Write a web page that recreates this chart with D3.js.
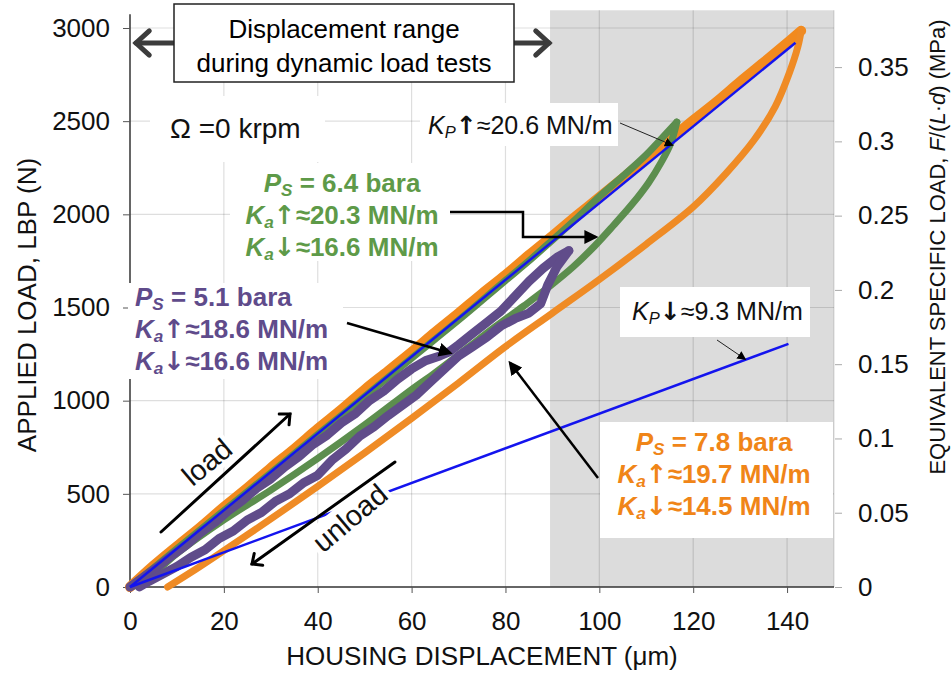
<!DOCTYPE html>
<html>
<head>
<meta charset="utf-8">
<script src="https://cdn.jsdelivr.net/npm/d3@7"></script>
<style>
  body { margin: 0; background: #fff; }
  svg { font-family: "Liberation Sans", Arial, sans-serif; }
</style>
</head>
<body>
<div id="chart"></div>
<script>
// axis ticks
const xTicks = [0, 20, 40, 60, 80, 100, 120, 140];
const yTicks = [0, 500, 1000, 1500, 2000, 2500, 3000];
const mpaTicks = [0, 0.05, 0.1, 0.15, 0.2, 0.25, 0.3, 0.35];
const mpaPerN = 1.2544e-4;          // F/(L*d) conversion
const dynamicRange = [89.5, 150];   // um, shaded band

// Ps = 7.8 bara
const orangeLoad = [[0,0],[5,115],[10,220],[15,322],[20,430],[25,532],[30,640],[35,742],[40,850],[45,952],[50,1060],[55,1160],[60,1262],[65,1368],[70,1470],[75,1575],[80,1675],[85,1782],[90,1885],[95,1990],[100,2092],[105,2195],[110,2300],[115,2402],[120,2505],[125,2605],[130,2712],[135,2815],[140,2920],[143,2985]];
const orangeUnload = [[143,2985],[142.3,2900],[140.5,2760],[137.5,2580],[133,2400],[127,2220],[120,2040],[110,1840],[100,1650],[90,1470],[80,1290],[70,1095],[60,905],[50,720],[40,540],[30,365],[20,195],[14,95],[8,0]];
// Ps = 6.4 bara
const greenLoad = [[0,0],[10,205],[20,410],[30,612],[40,818],[50,1022],[60,1228],[70,1432],[80,1645],[85,1750],[90,1862],[95,1975],[100,2095],[105,2205],[110,2320],[113,2400],[116.5,2495]];
const greenUnload = [[116.5,2495],[115.2,2380],[113.2,2280],[110.5,2170],[107,2055],[103,1940],[99,1830],[94.5,1720],[89.5,1615],[84,1510],[78,1400],[72,1285],[65,1150],[60,1060],[50,870],[40,690],[30,520],[20,360],[10,180],[3,30],[0,0]];
// Ps = 5.1 bara
const purpleLoad = [[0,0],[3,55],[6,110],[9,170],[12,225],[15,290],[18,345],[21,410],[24,465],[27,530],[30,580],[33,645],[36,700],[39,765],[42,815],[45,880],[48,930],[51,1000],[54,1050],[57,1115],[60,1170],[63,1215],[66,1240],[68,1262],[70,1300],[73,1360],[76,1420],[79,1480],[82,1560],[85,1640],[88,1710],[91,1770],[93.5,1805]];
const purpleUnload = [[93.5,1805],[91,1720],[89,1620],[87.5,1520],[85,1470],[82,1440],[79,1400],[76,1340],[73,1290],[70,1240],[67,1170],[64,1100],[61,1030],[58,975],[55,920],[52,860],[49,810],[46,740],[43,680],[40,600],[37,560],[34,500],[31,460],[28,400],[25,360],[22,300],[19,260],[16,200],[13,160],[10,110],[7,70],[4,30],[2,0]];
// pad stiffness lines
const kpUp = [[0,0],[141.8,2921]];
const kpDown = [[0,0],[140.3,1305]];

const W = 951, H = 674;
const svg = d3.select("#chart").append("svg").attr("width", W).attr("height", H);

const x = d3.scaleLinear().domain([0, 150]).range([130, 834]);
const y = d3.scaleLinear().domain([0, 3000]).range([587, 28]);
const yR = d3.scaleLinear().domain([0, 3000 * mpaPerN]).range([587, 28]);
const yTop = y(3095);

// shaded band + grid
svg.append("rect")
  .attr("x", x(dynamicRange[0])).attr("y", yTop)
  .attr("width", x(dynamicRange[1]) - x(dynamicRange[0])).attr("height", y(0) - yTop)
  .attr("fill", "#dcdcdc");

svg.append("g").selectAll("line").data(xTicks.slice(1).concat([150])).enter().append("line")
  .attr("x1", d => x(d)).attr("x2", d => x(d)).attr("y1", yTop).attr("y2", y(0))
  .attr("stroke", "rgba(0,0,0,0.13)").attr("stroke-width", 1.2);
svg.append("g").selectAll("line").data(yTicks.slice(1)).enter().append("line")
  .attr("x1", x(0)).attr("x2", x(150)).attr("y1", d => y(d)).attr("y2", d => y(d))
  .attr("stroke", "rgba(0,0,0,0.13)").attr("stroke-width", 1.2);

// axes
const axL = svg.append("g").attr("transform", `translate(${x(0)},0)`)
  .call(d3.axisLeft(y).tickValues(yTicks).tickSize(7).tickPadding(13).tickFormat(d => d));
axL.select(".domain").attr("d", `M0,${yTop + 4}V${y(0)}`).attr("stroke", "#333").attr("stroke-width", 1.5);

const axB = svg.append("g").attr("transform", `translate(0,${y(0)})`)
  .call(d3.axisBottom(x).tickValues(xTicks).tickSize(6).tickPadding(19).tickFormat(d => d));
axB.select(".domain").attr("d", `M${x(0)},0H${x(150)}`).attr("stroke", "#333").attr("stroke-width", 1.5);

const axR = svg.append("g").attr("transform", `translate(${x(150) + 1},0)`)
  .call(d3.axisRight(yR).tickValues(mpaTicks).tickSize(7).tickPadding(16).tickFormat(d => String(d)));
axR.select(".domain").remove();
axR.selectAll(".tick line").attr("stroke", "#aaa");

svg.selectAll(".tick text").attr("font-size", 26).attr("fill", "#111")
  .attr("font-family", '"Liberation Sans", Arial, sans-serif');
axL.selectAll(".tick line").attr("stroke", "#555");
axB.selectAll(".tick line").attr("stroke", "#555");

// axis titles
svg.append("text").attr("transform", `translate(36,${305}) rotate(-90)`)
  .attr("text-anchor", "middle").attr("font-size", 26).attr("fill", "#111")
  .text("APPLIED LOAD, LBP (N)");
svg.append("text").attr("x", 482).attr("y", 665)
  .attr("text-anchor", "middle").attr("font-size", 26).attr("fill", "#111")
  .text("HOUSING DISPLACEMENT (μm)");
const rt = svg.append("text").attr("transform", `translate(945,${247}) rotate(-90)`)
  .attr("text-anchor", "middle").attr("font-size", 22).attr("fill", "#111");
rt.append("tspan").text("EQUIVALENT SPECIFIC LOAD, ");
rt.append("tspan").attr("font-style", "italic").text("F");
rt.append("tspan").text("/(");
rt.append("tspan").attr("font-style", "italic").text("L");
rt.append("tspan").text("·");
rt.append("tspan").attr("font-style", "italic").text("d");
rt.append("tspan").text(") (MPa)");

// curves
const line = d3.line().x(d => x(d[0])).y(d => y(d[1]));
const smooth = d3.line().x(d => x(d[0])).y(d => y(d[1])).curve(d3.curveCatmullRom);
const curves = [
  { d: orangeLoad, c: "#f28a1e", w: 10, gen: smooth },
  { d: orangeUnload, c: "#ef8b25", w: 7, gen: smooth },
  { d: greenLoad, c: "#5c8e4e", w: 7, gen: smooth },
  { d: greenUnload, c: "#5c8e4e", w: 7, gen: smooth },
  { d: purpleLoad, c: "#604c8a", w: 9, gen: line },
  { d: purpleUnload, c: "#604c8a", w: 9, gen: line }
];
svg.append("g").selectAll("path").data(curves).enter().append("path")
  .attr("d", d => d.gen(d.d)).attr("fill", "none")
  .attr("stroke", d => d.c).attr("stroke-width", d => d.w)
  .attr("stroke-linecap", "round").attr("stroke-linejoin", "round");

svg.append("g").selectAll("path").data([kpUp, kpDown]).enter().append("path")
  .attr("d", line).attr("fill", "none").attr("stroke", "#1414ee").attr("stroke-width", 2.5);

// arrow markers
const defs = svg.append("defs");
function marker(id, color, size) {
  defs.append("marker").attr("id", id).attr("viewBox", "0 0 10 10")
    .attr("refX", 8).attr("refY", 5).attr("markerWidth", size).attr("markerHeight", size)
    .attr("orient", "auto-start-reverse").attr("markerUnits", "userSpaceOnUse")
    .append("path").attr("d", "M0,0L10,5L0,10z").attr("fill", color);
}
marker("tri", "#000", 14);
marker("triSmall", "#000", 9);

function chevron(x1, y1, x2, y2, color, w) {
  svg.append("line").attr("x1", x1).attr("y1", y1).attr("x2", x2).attr("y2", y2)
    .attr("stroke", color).attr("stroke-width", w).attr("stroke-linecap", "round");
  const a = Math.atan2(y2 - y1, x2 - x1), L = w * 3.6;
  const p = [a + 2.4, a - 2.4].map(t => [x2 + L * Math.cos(t), y2 + L * Math.sin(t)]);
  svg.append("path").attr("d", `M${p[0]}L${x2},${y2}L${p[1]}`).attr("fill", "none")
    .attr("stroke", color).attr("stroke-width", w).attr("stroke-linecap", "round").attr("stroke-linejoin", "miter");
}

// Displacement range box
chevron(176, 43, 136, 43, "#3c3c3c", 5);
chevron(513, 43, 549, 43, "#3c3c3c", 5);
svg.append("rect").attr("x", 174).attr("y", 4).attr("width", 340).attr("height", 78)
  .attr("fill", "#fff").attr("stroke", "#222").attr("stroke-width", 1.5);
svg.append("text").attr("x", 344).attr("y", 38).attr("text-anchor", "middle").attr("font-size", 26).text("Displacement range");
svg.append("text").attr("x", 344).attr("y", 72).attr("text-anchor", "middle").attr("font-size", 26).text("during dynamic load tests");

// Omega
svg.append("rect").attr("x", 150).attr("y", 96).attr("width", 175).attr("height", 66).attr("fill", "#fff");
svg.append("text").attr("x", 170).attr("y", 138).attr("font-size", 28).attr("fill", "#111").text("Ω =0 krpm");

// rich text helper: parts = [text, kind], kind: "" | "i" | "s" | "a"
function rich(sel, parts) {
  let sub = false;
  parts.forEach(([t, k]) => {
    const ts = sel.append("tspan").text(t);
    if (k === "i" || k === "s") ts.attr("font-style", "italic");
    if (k === "a") ts.attr("font-family", '"DejaVu Sans", sans-serif').attr("font-weight", "bold");
    if (k === "s") { ts.attr("font-size", "0.66em").attr("dy", "0.24em"); sub = true; }
    else if (sub) { ts.attr("dy", "-0.16em"); sub = false; }
  });
}
function block(xp, y0, anchor, color, lines) {
  lines.forEach((parts, i) => {
    const t = svg.append("text").attr("x", xp).attr("y", y0 + i * 32)
      .attr("text-anchor", anchor).attr("font-size", 26).attr("font-weight", "bold").attr("fill", color);
    rich(t, parts);
  });
}

// KP boxes
svg.append("rect").attr("x", 420).attr("y", 103).attr("width", 198).attr("height", 43).attr("fill", "#fff");
const kpu = svg.append("text").attr("x", 428).attr("y", 134).attr("font-size", 25).attr("fill", "#111");
rich(kpu, [["K", "i"], ["P", "s"], ["↑", "a"], ["≈20.6 MN/m", ""]]);
svg.append("line").attr("x1", 620).attr("y1", 123).attr("x2", x(115.5)).attr("y2", y(2372))
  .attr("stroke", "#222").attr("stroke-width", 1).attr("marker-end", "url(#triSmall)");

svg.append("rect").attr("x", 620).attr("y", 287).attr("width", 190).attr("height", 50).attr("fill", "#fff");
const kpd = svg.append("text").attr("x", 632).attr("y", 320).attr("font-size", 25).attr("fill", "#111");
rich(kpd, [["K", "i"], ["P", "s"], ["↓", "a"], ["≈9.3 MN/m", ""]]);
svg.append("line").attr("x1", 717).attr("y1", 340).attr("x2", x(131)).attr("y2", y(1224))
  .attr("stroke", "#222").attr("stroke-width", 1).attr("marker-end", "url(#triSmall)");

// green label
svg.append("rect").attr("x", 230).attr("y", 163).attr("width", 220).attr("height", 98).attr("fill", "#fff");
block(342, 192, "middle", "#5e9a48", [
  [["P", "i"], ["S", "s"], [" = 6.4 bara", ""]],
  [["K", "i"], ["a", "s"], ["↑", "a"], ["≈20.3 MN/m", ""]],
  [["K", "i"], ["a", "s"], ["↓", "a"], ["≈16.6 MN/m", ""]]
]);
svg.append("path").attr("d", `M450,212H523V237H${x(99.2)}`).attr("fill", "none")
  .attr("stroke", "#000").attr("stroke-width", 2.5).attr("marker-end", "url(#tri)");

// purple label
svg.append("rect").attr("x", 128).attr("y", 283).attr("width", 215).attr("height", 96).attr("fill", "#fff");
block(135, 306, "start", "#5f4b8b", [
  [["P", "i"], ["S", "s"], [" = 5.1 bara", ""]],
  [["K", "i"], ["a", "s"], ["↑", "a"], ["≈18.6 MN/m", ""]],
  [["K", "i"], ["a", "s"], ["↓", "a"], ["≈16.6 MN/m", ""]]
]);
svg.append("line").attr("x1", 347).attr("y1", 323).attr("x2", x(68.2)).attr("y2", y(1256))
  .attr("stroke", "#000").attr("stroke-width", 2.5).attr("marker-end", "url(#tri)");

// orange label
svg.append("line").attr("x1", 598).attr("y1", 478).attr("x2", x(81)).attr("y2", y(1202))
  .attr("stroke", "#000").attr("stroke-width", 2.5).attr("marker-end", "url(#tri)");
svg.append("rect").attr("x", 600).attr("y", 422).attr("width", 233).attr("height", 116).attr("fill", "#fff");
block(714, 451, "middle", "#f08518", [
  [["P", "i"], ["S", "s"], [" = 7.8 bara", ""]],
  [["K", "i"], ["a", "s"], ["↑", "a"], ["≈19.7 MN/m", ""]],
  [["K", "i"], ["a", "s"], ["↓", "a"], ["≈14.5 MN/m", ""]]
]);

// load / unload
function rotLabel(cx, cy, ang, txt, w) {
  const g = svg.append("g").attr("transform", `translate(${cx},${cy}) rotate(${ang})`);
  g.append("rect").attr("x", -w / 2).attr("y", -17).attr("width", w).attr("height", 32).attr("fill", "#fff");
  g.append("text").attr("text-anchor", "middle").attr("y", 10).attr("font-size", 29).attr("fill", "#111").text(txt);
}
rotLabel(207, 462, -40, "load", 60);
rotLabel(350, 518, -40, "unload", 94);
chevron(161, 532, 290, 414, "#000", 3);
chevron(395, 462, 252, 564, "#000", 3);
</script>
</body>
</html>
